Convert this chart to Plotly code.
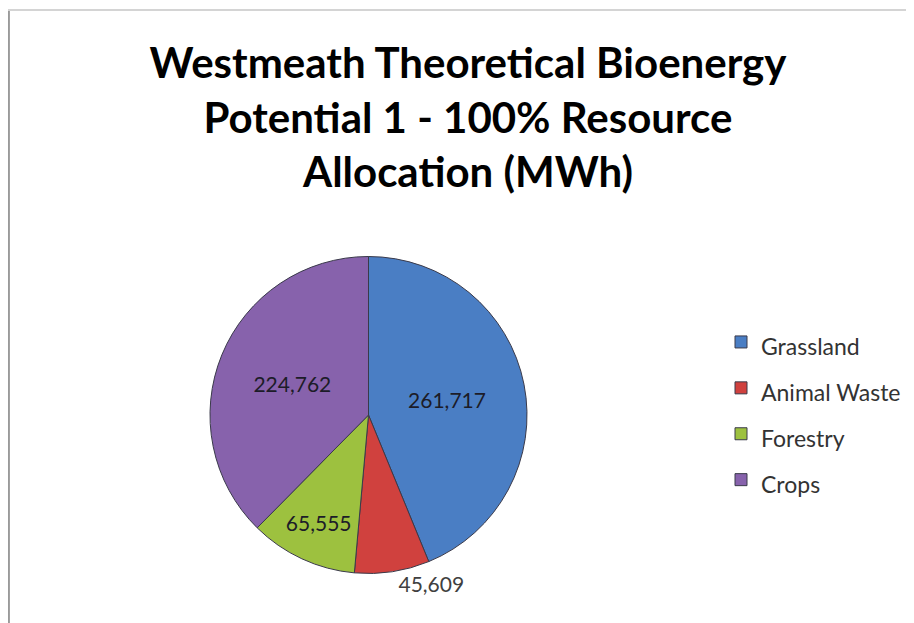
import plotly.graph_objects as go

categories = ["Grassland", "Animal Waste", "Forestry", "Crops"]
values_mwh = [261717, 45609, 65555, 224762]
colors = ["#4A7EC4", "#D0413E", "#9DC13F", "#8762AC"]
text_positions = ["inside", "outside", "inside", "inside"]

# the page body adds an 8px margin, so the figure is sized to fit inside the window
OFF = 8
W, H = 914 - OFF, 623 - OFF
FONT = "Lato"


def px(x):
    return (x - OFF) / W


def py(y):
    return 1 - (y - OFF) / H


legend_labels = [f"<span style='font-size:23px'>{c}</span>" for c in categories]

fig = go.Figure(
    go.Pie(
        labels=legend_labels,
        values=values_mwh,
        sort=False,
        direction="clockwise",
        rotation=0,
        marker=dict(colors=colors, line=dict(color="#3a3a4a", width=1)),
        texttemplate="%{value:,}",
        textposition=text_positions,
        insidetextorientation="horizontal",
        insidetextfont=dict(family=FONT, size=21, color="#1c1c28"),
        outsidetextfont=dict(family=FONT, size=21, color="#404040"),
        domain=dict(x=[px(210), px(527)], y=[py(574), py(256)]),
        hoverinfo="label+value",
        showlegend=True,
    )
)

fig.update_layout(
    width=W,
    height=H,
    margin=dict(l=0, r=0, t=0, b=0),
    paper_bgcolor="white",
    plot_bgcolor="white",
    title=dict(
        text="<b>Westmeath Theoretical Bioenergy<br>Potential 1 - 100% Resource<br>Allocation (MWh)</b>",
        font=dict(family=FONT, size=42, color="#000000"),
        x=px(468),
        xanchor="center",
        y=py(78),
        yanchor="top",
    ),
    legend=dict(
        x=px(721),
        xanchor="left",
        y=py(411),
        yanchor="middle",
        font=dict(family=FONT, size=33, color="#333333"),
        bgcolor="rgba(0,0,0,0)",
    ),
    shapes=[
        dict(type="line", xref="paper", yref="paper", x0=0.001, x1=0.001, y0=0, y1=py(10),
             line=dict(color="#9a9a9a", width=2)),
        dict(type="line", xref="paper", yref="paper", x0=0, x1=1, y0=py(10), y1=py(10),
             line=dict(color="#d4d4d4", width=2)),
    ],
)

fig.write_html("out.html")
